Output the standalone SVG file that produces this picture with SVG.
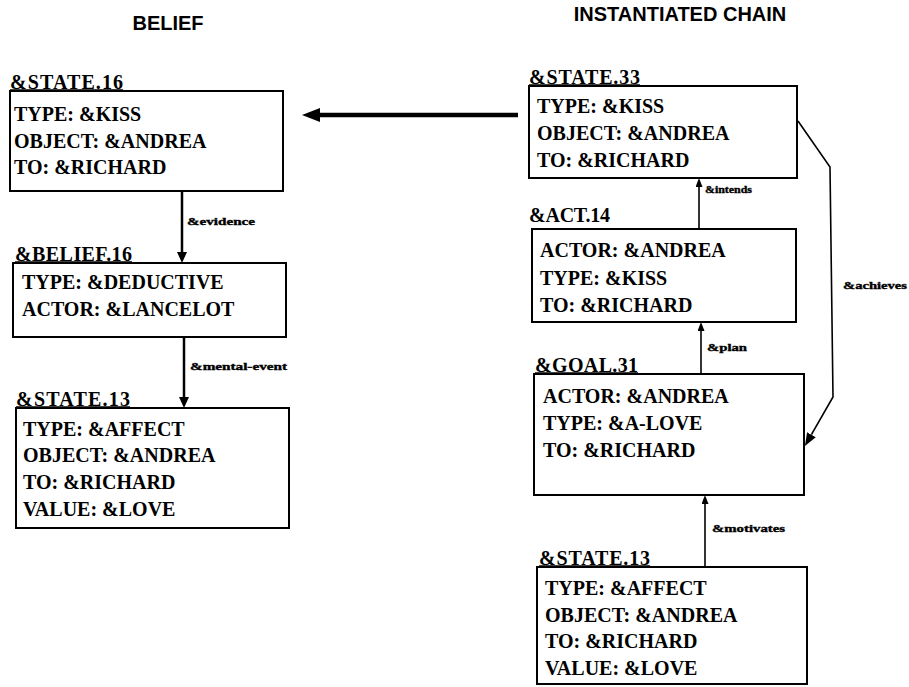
<svg xmlns="http://www.w3.org/2000/svg" width="909" height="687" viewBox="0 0 909 687">
  <style>
    .title { font-family: "Liberation Sans", Arial, sans-serif; font-weight: bold; font-size: 20px; fill: #000; text-anchor: middle; }
    .label { font-family: "Liberation Serif", "Times New Roman", serif; font-weight: bold; font-size: 20px; fill: #000; }
    .slot { font-family: "Liberation Serif", "Times New Roman", serif; font-weight: bold; font-size: 20px; fill: #000; }
    .box { fill: none; stroke: #000; stroke-width: 2; }
    .uline { stroke: #000; stroke-width: 1.6; }
    .rel { font-family: "Liberation Serif", "Times New Roman", serif; font-weight: bold; font-size: 10px; fill: #000; stroke: #000; stroke-width: 0.35; }
    .wire-heavy { fill: none; stroke: #000; stroke-width: 4.5; }
    .wire-mid { fill: none; stroke: #000; stroke-width: 2.5; }
    .wire-thin { fill: none; stroke: #000; stroke-width: 1.6; }
  </style>
  <defs>
    <marker id="head-lg" markerUnits="userSpaceOnUse" markerWidth="18" markerHeight="14" refX="0" refY="7" orient="auto">
      <path d="M0,0 L18,7 L0,14 Z" fill="#000"/>
    </marker>
    <marker id="head-md" markerUnits="userSpaceOnUse" markerWidth="11" markerHeight="10" refX="0" refY="5" orient="auto">
      <path d="M0,0 L11,5 L0,10 Z" fill="#000"/>
    </marker>
    <marker id="head-sm" markerUnits="userSpaceOnUse" markerWidth="9" markerHeight="7" refX="0" refY="3.5" orient="auto">
      <path d="M0,0 L9,3.5 L0,7 Z" fill="#000"/>
    </marker>
    <marker id="head-ach" markerUnits="userSpaceOnUse" markerWidth="13" markerHeight="10" refX="0" refY="5" orient="auto">
      <path d="M0,0 L13,5 L0,10 Z" fill="#000"/>
    </marker>
  </defs>

  <rect x="0" y="0" width="909" height="687" fill="#fff"/>

  <!-- column headings -->
  <text class="title" x="168" y="30">BELIEF</text>
  <text class="title" x="680" y="21">INSTANTIATED CHAIN</text>

  <!-- belief column -->
  <g id="state16">
    <text class="label" x="10" y="89" textLength="113">&amp;STATE.16</text>
    <line class="uline" x1="10" y1="90" x2="123" y2="90"/>
    <rect class="box" x="10" y="91" width="273" height="100"/>
    <text class="slot" x="14" y="121">TYPE: &amp;KISS</text>
    <text class="slot" x="14" y="148">OBJECT: &amp;ANDREA</text>
    <text class="slot" x="14" y="174">TO: &amp;RICHARD</text>
  </g>

  <g id="belief16">
    <text class="label" x="15" y="261" textLength="117">&amp;BELIEF.16</text>
    <line class="uline" x1="15" y1="262" x2="132" y2="262"/>
    <rect class="box" x="13" y="263" width="273" height="74"/>
    <text class="slot" x="22" y="289">TYPE: &amp;DEDUCTIVE</text>
    <text class="slot" x="22" y="316">ACTOR: &amp;LANCELOT</text>
  </g>

  <g id="state13-belief">
    <text class="label" x="16" y="406" textLength="114">&amp;STATE.13</text>
    <line class="uline" x1="16" y1="407" x2="130" y2="407"/>
    <rect class="box" x="16" y="408" width="273" height="120"/>
    <text class="slot" x="23" y="436">TYPE: &amp;AFFECT</text>
    <text class="slot" x="23" y="462">OBJECT: &amp;ANDREA</text>
    <text class="slot" x="23" y="489">TO: &amp;RICHARD</text>
    <text class="slot" x="23" y="516">VALUE: &amp;LOVE</text>
  </g>

  <!-- instantiated chain column -->
  <g id="state33">
    <text class="label" x="529" y="84" textLength="111">&amp;STATE.33</text>
    <line class="uline" x1="529" y1="85" x2="640" y2="85"/>
    <rect class="box" x="529" y="86" width="268" height="92"/>
    <text class="slot" x="537" y="113">TYPE: &amp;KISS</text>
    <text class="slot" x="537" y="140">OBJECT: &amp;ANDREA</text>
    <text class="slot" x="537" y="167">TO: &amp;RICHARD</text>
  </g>

  <g id="act14">
    <text class="label" x="529" y="222" textLength="81">&amp;ACT.14</text>
    <rect class="box" x="532" y="229" width="264" height="93"/>
    <text class="slot" x="540" y="257">ACTOR: &amp;ANDREA</text>
    <text class="slot" x="540" y="285">TYPE: &amp;KISS</text>
    <text class="slot" x="540" y="312">TO: &amp;RICHARD</text>
  </g>

  <g id="goal31">
    <text class="label" x="535" y="372" textLength="103">&amp;GOAL.31</text>
    <line class="uline" x1="535" y1="373" x2="638" y2="373"/>
    <rect class="box" x="534" y="374" width="270" height="121"/>
    <text class="slot" x="543" y="403">ACTOR: &amp;ANDREA</text>
    <text class="slot" x="543" y="430">TYPE: &amp;A-LOVE</text>
    <text class="slot" x="543" y="457">TO: &amp;RICHARD</text>
  </g>

  <g id="state13-chain">
    <text class="label" x="539" y="565" textLength="111">&amp;STATE.13</text>
    <line class="uline" x1="539" y1="566" x2="650" y2="566"/>
    <rect class="box" x="537" y="567" width="270" height="117"/>
    <text class="slot" x="545" y="595">TYPE: &amp;AFFECT</text>
    <text class="slot" x="545" y="622">OBJECT: &amp;ANDREA</text>
    <text class="slot" x="545" y="648">TO: &amp;RICHARD</text>
    <text class="slot" x="545" y="675">VALUE: &amp;LOVE</text>
  </g>

  <!-- connectors -->
  <g id="connectors">
    <line class="wire-heavy" x1="518" y1="115" x2="320" y2="115" marker-end="url(#head-lg)"/>

    <line class="wire-mid" x1="182" y1="191" x2="182" y2="252" marker-end="url(#head-md)"/>
    <text class="rel" x="187" y="225" textLength="68" lengthAdjust="spacingAndGlyphs">&amp;evidence</text>

    <line class="wire-mid" x1="184" y1="337" x2="184" y2="397" marker-end="url(#head-md)"/>
    <text class="rel" x="190" y="370" textLength="97" lengthAdjust="spacingAndGlyphs">&amp;mental-event</text>

    <line class="wire-thin" x1="699" y1="229" x2="699" y2="187" marker-end="url(#head-sm)"/>
    <text class="rel" x="705" y="193" textLength="47" lengthAdjust="spacingAndGlyphs">&amp;intends</text>

    <line class="wire-thin" x1="701" y1="374" x2="701" y2="331" marker-end="url(#head-sm)"/>
    <text class="rel" x="707" y="351" textLength="40" lengthAdjust="spacingAndGlyphs">&amp;plan</text>

    <line class="wire-thin" x1="705" y1="566" x2="705" y2="504" marker-end="url(#head-sm)"/>
    <text class="rel" x="712" y="532" textLength="73" lengthAdjust="spacingAndGlyphs">&amp;motivates</text>

    <polyline class="wire-thin" points="798,121 830,167 833,397 811.4,434.7" marker-end="url(#head-ach)"/>
    <text class="rel" x="843" y="289" textLength="64" lengthAdjust="spacingAndGlyphs">&amp;achieves</text>
  </g>
</svg>
